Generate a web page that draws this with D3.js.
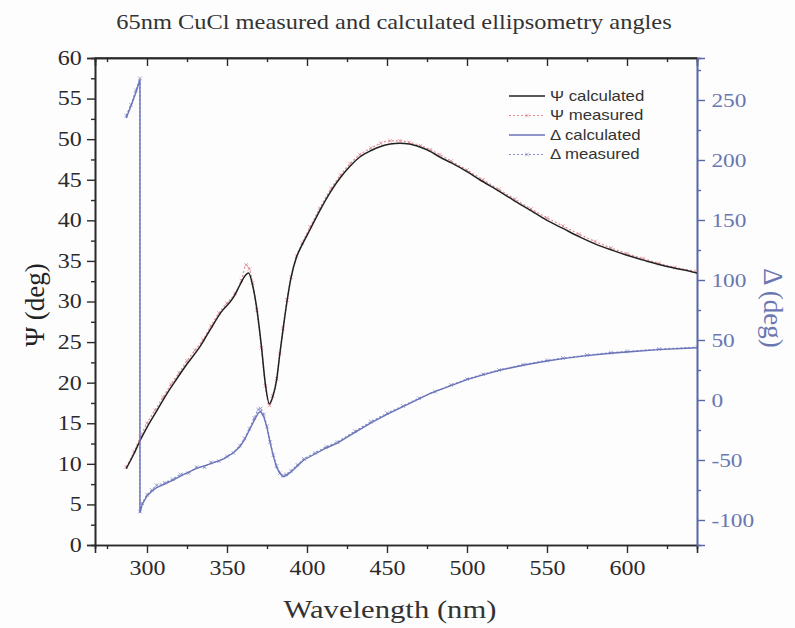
<!DOCTYPE html>
<html><head><meta charset="utf-8">
<script src="https://cdn.jsdelivr.net/npm/d3@7"></script>
<style>
body{margin:0;background:#fff;}
svg{display:block;}
</style></head>
<body>
<svg id="c" width="795" height="628"></svg>
<script>
// ---- data ----
const psiCalcWl = [287,292,296,300,306,312,318,325,333,340,346,354,358,361,363.5,366,368.5,371.5,374,376.5,378.5,381,383,385,387.5,390,393.5,397,402,408,415,421,427,433,440,446,452,458,464,471,477,483,490,500,508,520,529,540,550,560,571,580,591,600,612,625,635,644];
const psiCalc   = [9.4,11.3,13.0,14.5,16.5,18.5,20.3,22.3,24.4,26.7,28.6,30.5,32.0,33.1,33.5,32.0,29.3,24.5,19.8,17.4,18.2,20.3,23.5,26.5,30.0,32.9,35.5,37.0,38.9,41.2,43.6,45.3,46.7,47.8,48.6,49.1,49.4,49.5,49.4,49.0,48.5,47.8,47.1,46.0,45.0,43.6,42.5,41.2,40.0,39.0,37.9,37.1,36.3,35.7,35.0,34.3,33.9,33.5];

const psiMeasWl = [287,292,296,300,305,310,315,320,325,330,335,340,345,350,355,359,362,364,366,368.5,371.5,374,376.5,378.5,381,383,385,387.5,390,393.5,397,402,408,415,421,427,433,440,446,452,458,464,471,477,483,490,500,510,520,530,540,550,560,570,580,590,600,610,620,630,644];
const psiMeas   = [9.6,11.5,13.4,15.0,16.6,18.2,19.8,21.2,22.7,24.0,25.3,27.0,28.6,29.8,31.0,32.6,34.5,34.0,32.3,29.0,24.3,19.6,17.2,18.4,20.5,23.6,26.7,30.2,33.0,35.6,37.2,39.2,41.5,43.9,45.6,47.0,48.1,48.9,49.5,49.8,49.8,49.6,49.2,48.7,48.1,47.3,46.2,45.0,43.8,42.6,41.4,40.3,39.3,38.3,37.4,36.6,35.9,35.3,34.7,34.2,33.7];

const delCalcWl = [287,290,293,295.6,295.6,297,300,303,306,311,316,323,331,340,348,354,358,361,364,367,369.5,371,373,375,377,379,381,383,385,387,390,394,398,405,412,419,430,440,450,460,470,477,490,500,510,521,535,550,560,575,590,600,620,644];
const delCalc   = [235,245,256,267,-94,-87,-80,-76,-73,-70,-67,-62,-57,-53,-49,-44,-39,-33,-25,-17,-11,-9.5,-14,-23,-36,-47,-56,-61,-64,-63,-60,-55,-50,-45,-40,-36,-27,-19,-12,-5.5,1,5.6,12,17,21,25,29,32.5,34.5,37,39,40,42,43.5];

const delMeasWl = [287,290,293,295.6,295.6,297,300,303,306,311,316,321,326,331,336,340,345,350,354,358,361,364,367,369.5,371,373,375,377,379,381,383,385,387,390,394,398,405,412,419,430,440,450,460,470,480,490,500,510,520,535,550,560,575,590,600,620,644];
const delMeas   = [237,246,258,268,-93,-86,-79,-75,-71,-69,-66,-62,-61,-56,-56,-52,-51,-47,-44,-38,-32,-24,-15,-8,-7,-12,-22,-35,-46,-55,-61,-63,-62,-59,-54,-49,-44,-39,-35,-26,-18,-11,-5,1.5,7,12.5,17.5,21.5,25,29.5,33,35,37.5,39.5,40.5,42.5,44];

const xMajor = [300,350,400,450,500,550,600];
const xMinor = [275,325,375,425,475,525,575,625];
const psiMajor = [0,5,10,15,20,25,30,35,40,45,50,55,60];
const psiMinor = [2.5,7.5,12.5,17.5,22.5,27.5,32.5,37.5,42.5,47.5,52.5,57.5];
const delMajor = [-100,-50,0,50,100,150,200,250];
const delMinor = [-75,-25,25,75,125,175,225,275];
const legendLabels = ["\u03A8 calculated","\u03A8 measured","\u0394 calculated","\u0394 measured"];

// ---- drawing ----
const svg = d3.select("#c");
const L=95,R=697,T=58,B=545;
const SX = 1.2; // horizontal stretch of the scanned lettering
const serif = "'Liberation Serif','Times New Roman',serif";
const sans = "'Liberation Sans',Arial,sans-serif";
const axisBlue = "#5a67a6";
const ink = "#2a2a2a";
const fmt = d => String(d);

const x = d3.scaleLinear().domain([267.5,643.75]).range([L,R]);
const yL = d3.scaleLinear().domain([0,60]).range([B,T]);
const yR = d3.scaleLinear().domain([-100 - 25/1.2, 250 + 42/1.2]).range([B,T]);

svg.append("rect").attr("width",795).attr("height",628).attr("fill","#fdfdfd");

function style(g, color, size){
  g.selectAll("path.domain").attr("stroke",color).attr("stroke-width",1.6);
  g.selectAll(".tick line").attr("stroke",color).attr("stroke-width",1.4);
  g.selectAll(".tick text").attr("fill",color).attr("font-family",serif).attr("font-size",size)
    .attr("transform",`scale(${SX},1)`);
}
// bottom
let g = svg.append("g").attr("transform",`translate(0,${B})`)
  .call(d3.axisBottom(x).tickValues(xMajor).tickSize(8).tickPadding(8).tickFormat(fmt));
style(g, ink, 20);
g = svg.append("g").attr("transform",`translate(0,${B})`)
  .call(d3.axisBottom(x).tickValues(xMinor).tickSize(4).tickFormat(""));
style(g, ink, 20);
// top (inward)
g = svg.append("g").attr("transform",`translate(0,${T})`)
  .call(d3.axisBottom(x).tickValues(xMajor).tickSize(8).tickFormat(""));
style(g, ink, 20);
g = svg.append("g").attr("transform",`translate(0,${T})`)
  .call(d3.axisBottom(x).tickValues(xMinor).tickSize(4).tickFormat(""));
style(g, ink, 20);
// left
g = svg.append("g").attr("transform",`translate(${L},0)`)
  .call(d3.axisLeft(yL).tickValues(psiMajor).tickSize(8).tickPadding(3).tickFormat(fmt));
style(g, ink, 20);
g = svg.append("g").attr("transform",`translate(${L},0)`)
  .call(d3.axisLeft(yL).tickValues(psiMinor).tickSize(4).tickFormat(""));
style(g, ink, 20);
// right
g = svg.append("g").attr("transform",`translate(${R},0)`)
  .call(d3.axisRight(yR).tickValues(delMajor).tickSize(8).tickPadding(4).tickFormat(fmt));
style(g, axisBlue, 19.5);
g.selectAll(".tick text").attr("fill","#6a77b2");
g = svg.append("g").attr("transform",`translate(${R},0)`)
  .call(d3.axisRight(yR).tickValues(delMinor).tickSize(4).tickFormat(""));
style(g, axisBlue, 19.5);

// clip
svg.append("clipPath").attr("id","clip").append("rect").attr("x",L).attr("y",T).attr("width",R-L).attr("height",B-T);
const plot = svg.append("g").attr("clip-path","url(#clip)");

const zip = (a,b)=>a.map((w,i)=>[w,b[i]]);
const lineL = d3.line().x(d=>x(d[0])).y(d=>yL(d[1])).curve(d3.curveMonotoneX);
const lineR = d3.line().x(d=>x(d[0])).y(d=>yR(d[1]));

const psiCol = "#222", psiMeasCol = "#e08a92";
const delCol = "#6a74b8", delMeasCol = "#8890c8";

// measured (behind)
const pm = zip(psiMeasWl, psiMeas);
plot.append("path").datum(pm).attr("d",lineL).attr("fill","none").attr("stroke",psiMeasCol).attr("stroke-width",1.2).attr("stroke-dasharray","2,2");
const dm = zip(delMeasWl, delMeas);
plot.append("path").datum(dm).attr("d",lineR).attr("fill","none").attr("stroke",delMeasCol).attr("stroke-width",1.2).attr("stroke-dasharray","2,2");

function xmark(sel, data, xf, yf, col){
  sel.selectAll(null).data(data).enter().append("path")
    .attr("d",d=>{const cx=xf(d[0]),cy=yf(d[1]),s=1.8;return `M${cx-s},${cy-s}L${cx+s},${cy+s}M${cx-s},${cy+s}L${cx+s},${cy-s}`;})
    .attr("stroke",col).attr("stroke-width",0.8).attr("fill","none");
}
xmark(plot, pm, d=>x(d), d=>yL(d), psiMeasCol);
xmark(plot, dm, d=>x(d), d=>yR(d), delMeasCol);

// calculated
plot.append("path").datum(zip(psiCalcWl, psiCalc)).attr("d",lineL).attr("fill","none").attr("stroke",psiCol).attr("stroke-width",1.5);
plot.append("path").datum(zip(delCalcWl, delCalc)).attr("d",lineR).attr("fill","none").attr("stroke",delCol).attr("stroke-width",1.4);

// frame top line
svg.append("line").attr("x1",L).attr("x2",R).attr("y1",T).attr("y2",T).attr("stroke",ink).attr("stroke-width",1.6);

// legend
const legCols=[psiCol,psiMeasCol,delCol,delMeasCol];
const legDash=[null,"2,2",null,"2,2"];
const leg = svg.append("g");
legendLabels.forEach((t,i)=>{
  const cy = 96 + i*19.5;
  leg.append("line").attr("x1",509).attr("x2",545).attr("y1",cy).attr("y2",cy)
    .attr("stroke",legCols[i]).attr("stroke-width",i%2?1.1:1.4).attr("stroke-dasharray",legDash[i]);
  if(i%2){ const s=1.8; leg.append("path").attr("d",`M${527-s},${cy-s}L${527+s},${cy+s}M${527-s},${cy+s}L${527+s},${cy-s}`).attr("stroke",legCols[i]).attr("stroke-width",0.8);}
  leg.append("text").attr("transform",`translate(550,${cy}) scale(${SX},1)`).attr("dy","0.35em")
    .attr("font-family",sans).attr("font-size",14).attr("fill","#333").text(t);
});

// titles
svg.append("text").attr("transform",`translate(394,29) scale(1.22,1)`).attr("text-anchor","middle").attr("font-family",serif).attr("font-size",20).attr("fill","#333")
  .text("65nm CuCl measured and calculated ellipsometry angles");
svg.append("text").attr("transform",`translate(390,618) scale(1.18,1)`).attr("text-anchor","middle").attr("font-family",serif).attr("font-size",26).attr("fill","#333")
  .text("Wavelength (nm)");
svg.append("text").attr("transform",`translate(44,305) rotate(-90)`).attr("text-anchor","middle").attr("font-family",serif).attr("font-size",27).attr("fill","#222")
  .text("\u03A8 (deg)");
svg.append("text").attr("transform",`translate(764,308) rotate(90)`).attr("text-anchor","middle").attr("font-family",serif).attr("font-size",27).attr("fill","#6a77b2")
  .text("\u0394 (deg)");
</script>
</body></html>
